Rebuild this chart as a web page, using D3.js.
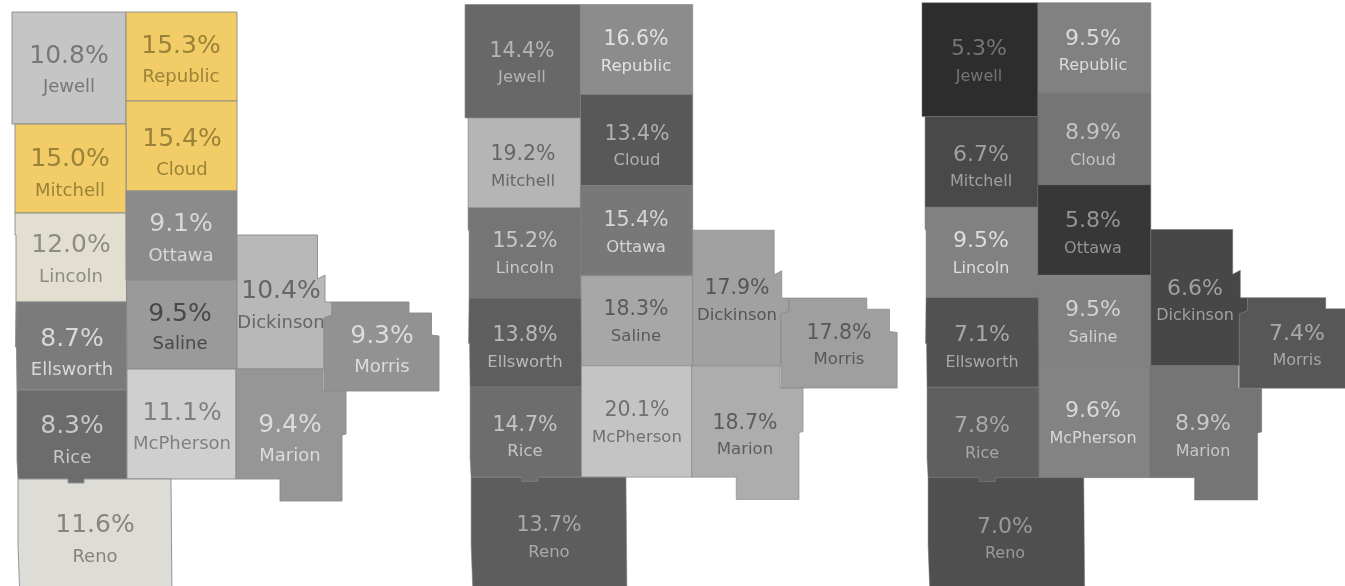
<!DOCTYPE html>
<html>
<head>
<meta charset="utf-8">
<script src="https://cdnjs.cloudflare.com/ajax/libs/d3/7.8.5/d3.min.js"></script>
<style>
  html, body { margin: 0; padding: 0; background: #fff; overflow: hidden; }
  text { font-family: "DejaVu Sans", sans-serif; text-anchor: middle; }
  svg { filter: blur(0.35px); }
</style>
</head>
<body>
<div id="content"></div>
<script>
const counties = ["Jewell", "Republic", "Cloud", "Mitchell", "Lincoln", "Ottawa", "Saline",
  "Dickinson", "Morris", "Ellsworth", "Rice", "McPherson", "Marion", "Reno"];

const valuesLeft = [10.8, 15.3, 15.4, 15.0, 12.0, 9.1, 9.5, 10.4, 9.3, 8.7, 8.3, 11.1, 9.4, 11.6];
const valuesMiddle = [14.4, 16.6, 13.4, 19.2, 15.2, 15.4, 18.3, 17.9, 17.8, 13.8, 14.7, 20.1, 18.7, 13.7];
const valuesRight = [5.3, 9.5, 8.9, 6.7, 9.5, 5.8, 9.5, 6.6, 7.4, 7.1, 7.8, 9.6, 8.9, 7.0];

const outlines = [
  [[12,12],[126,12],[126,124],[12,124]],
  [[126,12],[237,12],[237,101],[126,101]],
  [[126,101],[237,101],[237,191],[126,191]],
  [[15,124],[126,124],[126,213],[15,213]],
  [[15,213],[126,213],[126.5,302],[16,302],[16,235],[15,235]],
  [[126,191],[237,191],[237,280],[126,280]],
  [[126.5,280],[237,280],[237,369],[127,369]],
  [[237,235],[317.5,235],[317.5,279],[325,275],[325,302],[332,302],[332,315],[324,318],[324,369],[237,369]],
  [[332,302],[409,302],[409,313],[431.5,313],[431.5,335],[439,336],[439,391],[324,391],[324,318],[332,315]],
  [[16,302],[126.5,302],[127,390],[17,390],[16.5,347],[15.5,347]],
  [[17,390],[127,390],[127,479],[84,479],[84,483],[68,483],[68,479],[18,479],[17,460]],
  [[127,369],[236,369],[236,479],[127,479]],
  [[236,369],[323,369],[323,391],[346,391],[346,434],[342,435],[342,501],[280,501],[280,479],[236,479]],
  [[18,479],[68,479],[68,483],[84,483],[84,479],[171,479],[172,600],[20,600],[18,545]]
];

const features = outlines.map((ring, i) => ({
  type: "Feature",
  properties: { name: counties[i] },
  geometry: { type: "Polygon", coordinates: [[...ring, ring[0]]] }
}));

// colour ramps, one per map
const colorLeft = d3.scaleLinear()
  .domain([8.3, 9.5, 11.1, 11.6, 12.0, 15.0, 15.4])
  .range(["#6c6c6c", "#9a9a9a", "#cfcfcf", "#dddcd6", "#e3dfd0", "#f2cc66", "#f2cc66"]);
const colorMiddle = d3.scaleLinear().domain([13.4, 20.1]).range(["#585858", "#c4c4c4"]);
const colorRight = d3.scaleLinear().domain([5.3, 9.6]).range(["#2d2d2d", "#838383"]);

// label spots per map: x, y of the value, y of the name
const panels = [
  {
    values: valuesLeft, color: colorLeft, k: 1, dx: 0, dy: 0, stroke: "#8a8a8a", strokeW: 0.9,
    valueSize: 25, nameSize: 18,
    spots: [[69,54,85],[181,44,75],[182,137,168],[70,157,189],[71,243,275],[181,222,254],[180,312,342],
      [281,289,321],[382,334,365],[72,337,368],[72,424,456],[182,411,442],[290,423,454],[95,523,555]],
    ink: ["#777777","#9a8238","#9a8238","#9a8238","#8e8c80","#d8d8d8","#484848",
      "#666666","#dcdcdc","#d8d8d8","#c8c8c8","#808080","#dcdcdc","#85847c"]
  },
  {
    values: valuesMiddle, color: colorMiddle, k: 1.012, dx: 452.9, dy: -7.6, stroke: "#808080", strokeW: 0.6,
    valueSize: 20.5, nameSize: 16.5,
    spots: [[522,50,76],[636,38,65],[637,133,159],[523,153,180],[525,240,267],[636,219,246],[636,308,335],
      [737,287,314],[839,332,358],[525,334,361],[525,424,450],[637,409,436],[745,422,448],[549,524,551]],
    ink: ["#b5b5b5","#e2e2e2","#b0b0b0","#666666","#c8c8c8","#d6d6d6","#5a5a5a",
      "#555555","#585858","#b8b8b8","#c4c4c4","#707070","#5c5c5c","#aaaaaa"]
  },
  {
    values: valuesRight, color: colorRight, k: 1.017, dx: 909.8, dy: -9.5, stroke: "#707070", strokeW: 0.5,
    valueSize: 22, nameSize: 16,
    spots: [[979,47,75],[1093,37,64],[1093,131,159],[981,153,180],[981,239,267],[1093,219,247],[1093,308,336],
      [1195,287,314],[1297,332,359],[982,333,361],[982,424,452],[1093,409,437],[1203,422,450],[1005,525,552]],
    ink: ["#757575","#dcdcdc","#c4c4c4","#a0a0a0","#dedede","#959595","#d2d2d2",
      "#a0a0a0","#a8a8a8","#a8a8a8","#a8a8a8","#d8d8d8","#c8c8c8","#9a9a9a"]
  }
];

const w = 1345;
const h = 586;

const svg = d3.select("#content")
  .append("svg")
  .attr("width", w)
  .attr("height", h)
  .style("display", "block");

panels.forEach(p => {
  const path = d3.geoPath(d3.geoIdentity().scale(p.k).translate([p.dx, p.dy]));
  const g = svg.append("g");

  g.selectAll("path")
    .data(features)
    .enter()
    .append("path")
    .attr("d", path)
    .attr("fill", (d, i) => p.color(p.values[i]))
    .attr("stroke", p.stroke)
    .attr("stroke-width", p.strokeW);

  g.selectAll("text.value")
    .data(p.values)
    .enter()
    .append("text")
    .attr("class", "value")
    .attr("x", (d, i) => p.spots[i][0])
    .attr("y", (d, i) => p.spots[i][1])
    .attr("dy", "0.365em")
    .attr("font-size", p.valueSize)
    .attr("fill", (d, i) => p.ink[i])
    .text(d => d.toFixed(1) + "%");

  g.selectAll("text.name")
    .data(counties)
    .enter()
    .append("text")
    .attr("class", "name")
    .attr("x", (d, i) => p.spots[i][0])
    .attr("y", (d, i) => p.spots[i][2])
    .attr("dy", "0.365em")
    .attr("font-size", p.nameSize)
    .attr("fill", (d, i) => p.ink[i])
    .text(d => d);
});
</script>
</body>
</html>
